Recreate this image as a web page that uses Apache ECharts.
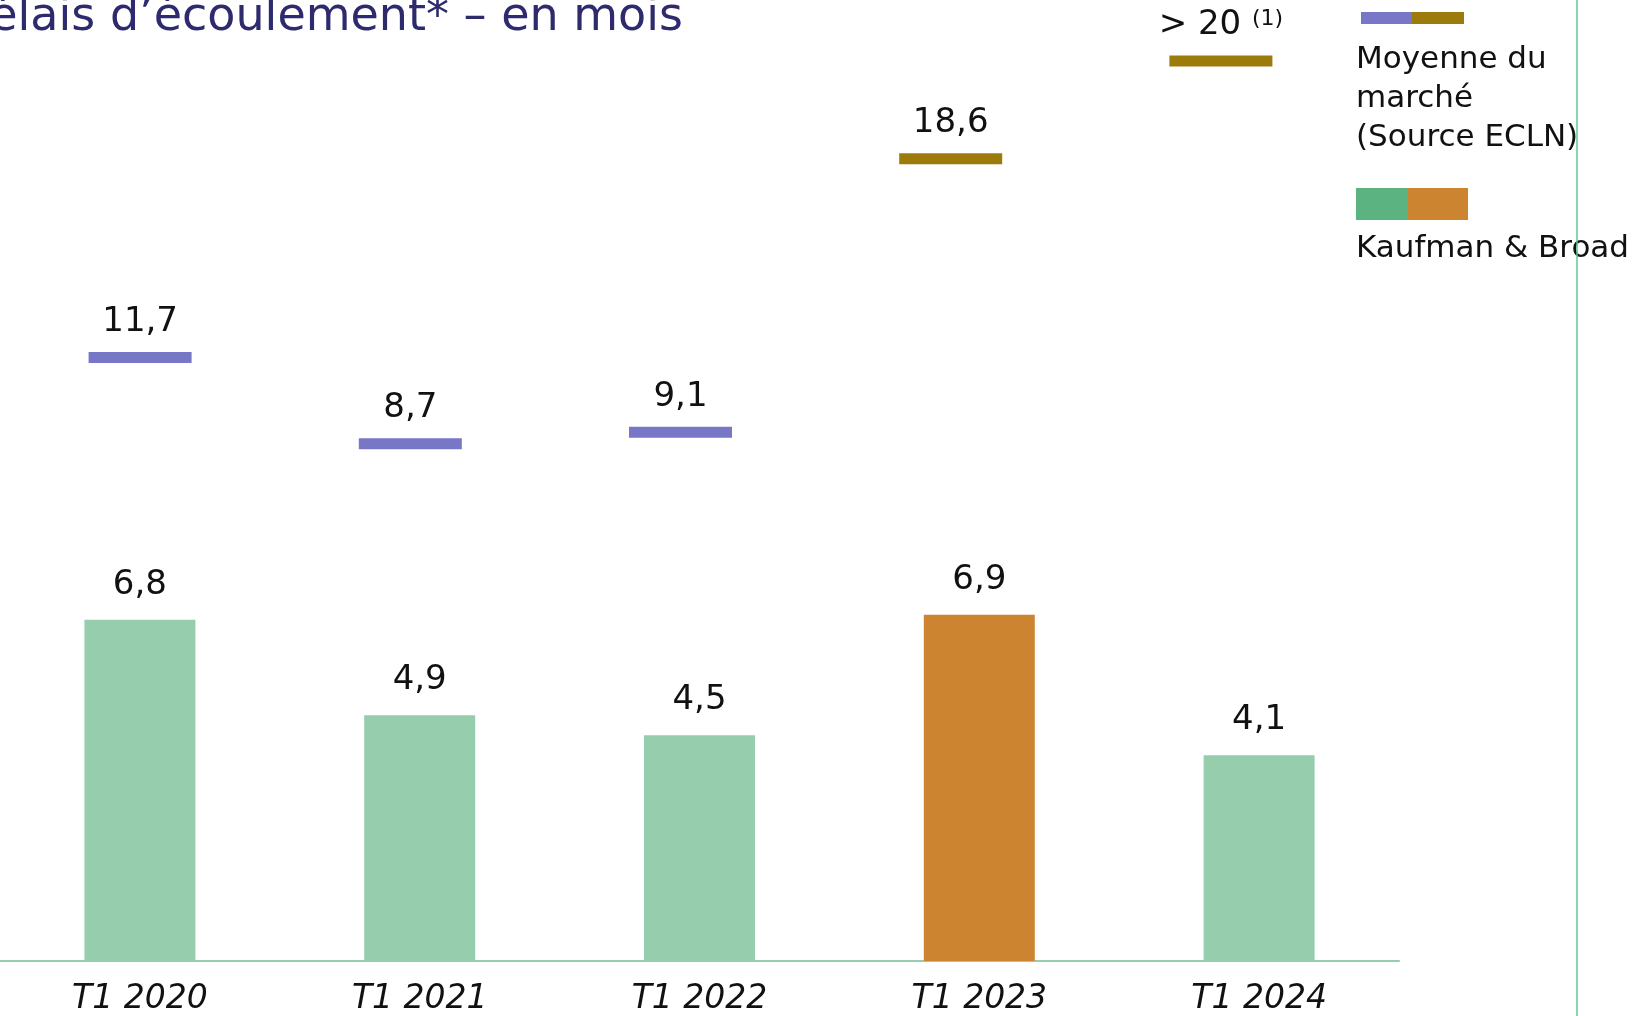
<!DOCTYPE html>
<html>
<head>
    <meta charset="UTF-8"/>
    <script type="text/javascript" src="https://cdn.jsdelivr.net/npm/echarts@6/dist/echarts.min.js"></script>
    <title>Délais d'écoulement</title>
    <style>html, body {margin: 0; padding: 0; background: #fff;}</style>
</head>
<body>
<div id="main" style="width:1635px;height:1016px"></div>
<script type="text/javascript">
    // données
    var categories = ['T1 2020', 'T1 2021', 'T1 2022', 'T1 2023', 'T1 2024']
    var kbValues = [6.8, 4.9, 4.5, 6.9, 4.1]
    // "> 20" : valeur estimée d'après la hauteur du trait
    var marketValues = [11.7, 8.7, 9.1, 18.6, 22]
    var marketLabels = ['11,7', '8,7', '9,1', '18,6', '> 20']
    var marketNotes = ['', '', '', '', '(1)']

    var FONT = '"DejaVu Sans", sans-serif'
    var GREEN = '#96CDAD'
    var ORANGE = '#CC8430'
    var PURPLE = '#7876C6'
    var GOLD = '#9C7A0B'

    function fr(v) {
        return String(v).replace('.', ',')
    }

    var myChart = echarts.init(document.getElementById('main'))

    var option = {
        backgroundColor: '#fff',
        animation: false,
        textStyle: {fontFamily: FONT},
        grid: [
            {left: -9, right: 236, top: 58, bottom: 54},
            {left: 5, right: 279, top: 58, bottom: 54}
        ],
        xAxis: [
            {
                type: 'category',
                gridIndex: 0,
                data: categories,
                axisLine: {lineStyle: {color: GREEN, width: 2}},
                axisTick: {show: false},
                axisLabel: {
                    fontFamily: FONT,
                    fontStyle: 'italic',
                    fontSize: 33,
                    color: '#111',
                    margin: 22
                }
            },
            {type: 'category', gridIndex: 1, data: categories, show: false}
        ],
        yAxis: [
            {type: 'value', gridIndex: 0, min: 0, max: 18, show: false, splitLine: {show: false}},
            {type: 'value', gridIndex: 1, min: -9.3, max: 22.1, show: false, splitLine: {show: false}}
        ],
        series: [
            {
                name: 'Kaufman & Broad',
                type: 'bar',
                xAxisIndex: 0,
                yAxisIndex: 0,
                data: kbValues,
                barWidth: 111,
                itemStyle: {
                    color: function (p) {
                        return p.name === 'T1 2023' ? ORANGE : GREEN
                    }
                },
                label: {
                    show: true,
                    position: 'top',
                    distance: 18,
                    fontFamily: FONT,
                    fontSize: 34,
                    color: '#111',
                    formatter: function (p) {
                        return fr(p.value)
                    }
                }
            },
            {
                name: 'Moyenne du marché',
                type: 'scatter',
                xAxisIndex: 1,
                yAxisIndex: 1,
                data: marketValues,
                symbol: 'rect',
                symbolSize: [103, 11],
                itemStyle: {
                    opacity: 1,
                    color: function (p) {
                        return p.dataIndex >= 3 ? GOLD : PURPLE
                    }
                },
                label: {
                    show: true,
                    position: 'top',
                    distance: 13,
                    fontFamily: FONT,
                    fontSize: 34,
                    color: '#111',
                    opacity: 1,
                    formatter: function (p) {
                        var note = marketNotes[p.dataIndex]
                        return marketLabels[p.dataIndex] + (note ? ' {sup|' + note + '}' : '')
                    },
                    rich: {
                        sup: {fontFamily: FONT, fontSize: 22, color: '#111', verticalAlign: 'top', lineHeight: 22}
                    }
                }
            }
        ],
        graphic: [
            {
                type: 'text',
                x: 683, y: 18,
                style: {
                    text: 'Délais d’écoulement* – en mois',
                    font: '46px ' + FONT,
                    fill: '#2D2A6E',
                    align: 'right',
                    verticalAlign: 'middle'
                }
            },
            {type: 'rect', shape: {x: 1361, y: 12, width: 51, height: 12}, style: {fill: PURPLE}},
            {type: 'rect', shape: {x: 1412, y: 12, width: 52, height: 12}, style: {fill: GOLD}},
            {type: 'text', x: 1356, y: 59.5, style: {text: 'Moyenne du', font: '31px ' + FONT, fill: '#111', verticalAlign: 'middle'}},
            {type: 'text', x: 1356, y: 98.5, style: {text: 'marché', font: '31px ' + FONT, fill: '#111', verticalAlign: 'middle'}},
            {type: 'text', x: 1356, y: 137.5, style: {text: '(Source ECLN)', font: '31px ' + FONT, fill: '#111', verticalAlign: 'middle'}},
            {type: 'rect', shape: {x: 1356, y: 188, width: 52, height: 32}, style: {fill: '#5AB380'}},
            {type: 'rect', shape: {x: 1408, y: 188, width: 60, height: 32}, style: {fill: ORANGE}},
            {type: 'text', x: 1356, y: 249, style: {text: 'Kaufman & Broad', font: '31px ' + FONT, fill: '#111', verticalAlign: 'middle'}},
            {type: 'line', shape: {x1: 1577, y1: 0, x2: 1577, y2: 1016}, style: {stroke: '#5CCB8A', lineWidth: 1.5}, z: 10}
        ]
    }

    myChart.setOption(option)
</script>
</body>
</html>
